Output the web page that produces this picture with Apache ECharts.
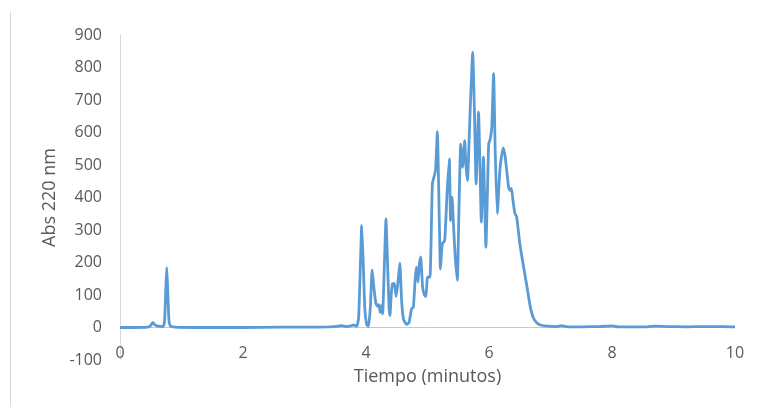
<!DOCTYPE html>
<html>
<head>
<meta charset="utf-8">
<script src="https://cdn.jsdelivr.net/npm/echarts@6/dist/echarts.min.js"></script>
<style>html,body{margin:0;padding:0;background:#fff}#c{width:758px;height:407px}</style>
</head>
<body>
<div id="c"></div>
<script>
var timeMin = [0,0.2,0.45,0.50,0.53,0.57,0.62,0.70,0.725,0.745,0.76,0.775,0.795,0.82,0.9,1.2,2.0,2.6,3.0,3.4,3.55,3.61,3.68,3.75,3.80,3.85,3.88,3.91,3.93,3.955,3.98,4.01,4.04,4.07,4.10,4.13,4.16,4.19,4.21,4.23,4.25,4.27,4.30,4.325,4.35,4.375,4.39,4.41,4.43,4.46,4.49,4.52,4.55,4.58,4.61,4.66,4.70,4.74,4.77,4.80,4.82,4.845,4.87,4.89,4.92,4.95,4.975,5.00,5.04,5.08,5.13,5.16,5.19,5.21,5.24,5.28,5.32,5.355,5.375,5.40,5.42,5.45,5.485,5.51,5.54,5.57,5.605,5.625,5.65,5.69,5.735,5.765,5.79,5.83,5.855,5.875,5.91,5.95,5.975,5.995,6.02,6.045,6.075,6.10,6.135,6.18,6.23,6.26,6.29,6.32,6.34,6.365,6.39,6.42,6.45,6.50,6.55,6.61,6.67,6.72,6.78,6.85,6.95,7.10,7.18,7.25,7.5,7.8,8.0,8.1,8.5,8.7,8.9,9.2,9.5,9.8,10.0];
var abs220 = [0,0,1,6,16,8,4,3,20,120,184,120,25,5,1,0,0,1,1,2,4,6,3,5,8,4,30,200,314,200,60,10,3,60,177,120,75,65,70,47,67,42,200,334,200,60,37,100,134,136,95,140,198,80,25,9,15,57,62,150,186,140,200,217,124,100,95,155,155,442,483,603,350,180,257,268,420,519,329,401,325,220,145,350,565,493,575,500,452,650,847,650,442,663,480,324,524,247,420,565,580,616,781,550,350,493,553,530,480,430,422,428,391,352,340,260,200,134,65,30,14,7,4,3,6,3,2,3,5,2,2,4,3,2,3,3,2];
var yTicks = {min: -100, max: 900, interval: 100};
var xTicks = {min: 0, max: 10, interval: 2};

var pts = timeMin.map(function(t, i){ return [t, abs220[i]]; });
var chart = echarts.init(document.getElementById('c'), null, {renderer: 'canvas'});
var txt = '#595959';
var font = 'Open Sans';
chart.setOption({
  animation: false,
  backgroundColor: '#ffffff',
  grid: {left: 120, right: 23, top: 35, bottom: 47, containLabel: false, outerBoundsMode: 'none'},
  graphic: [{type: 'line', shape: {x1: 10.5, y1: 12, x2: 10.5, y2: 407}, style: {stroke: '#d9d9d9', lineWidth: 1}, silent: true}],
  xAxis: {
    type: 'value', min: xTicks.min, max: xTicks.max, interval: xTicks.interval,
    name: 'Tiempo (minutos)', nameLocation: 'middle', nameGap: 8,
    nameTextStyle: {color: txt, fontSize: 18, fontFamily: font},
    axisLine: {show: false, onZero: false},
    axisTick: {show: false},
    splitLine: {show: false},
    axisLabel: {color: txt, fontSize: 16, fontFamily: font, margin: -15}
  },
  yAxis: {
    type: 'value', min: yTicks.min, max: yTicks.max, interval: yTicks.interval,
    name: 'Abs 220 nm', nameLocation: 'middle', nameGap: 59,
    nameTextStyle: {color: txt, fontSize: 18, fontFamily: font},
    axisLine: {show: true, lineStyle: {color: '#d9d9d9', width: 1}},
    axisTick: {show: false},
    splitLine: {show: false},
    axisLabel: {color: txt, fontSize: 16, fontFamily: font, margin: 18}
  },
  series: [{
    type: 'line', data: pts, showSymbol: false, smooth: 0.15, z: 3,
    lineStyle: {color: '#5b9bd5', width: 2.8},
    itemStyle: {color: '#5b9bd5'},
    markLine: {
      z: 1, silent: true, symbol: 'none', label: {show: false},
      lineStyle: {color: '#c8c8c8', width: 1, type: 'solid'},
      data: [{yAxis: 0}]
    }
  }]
});
</script>
</body>
</html>
